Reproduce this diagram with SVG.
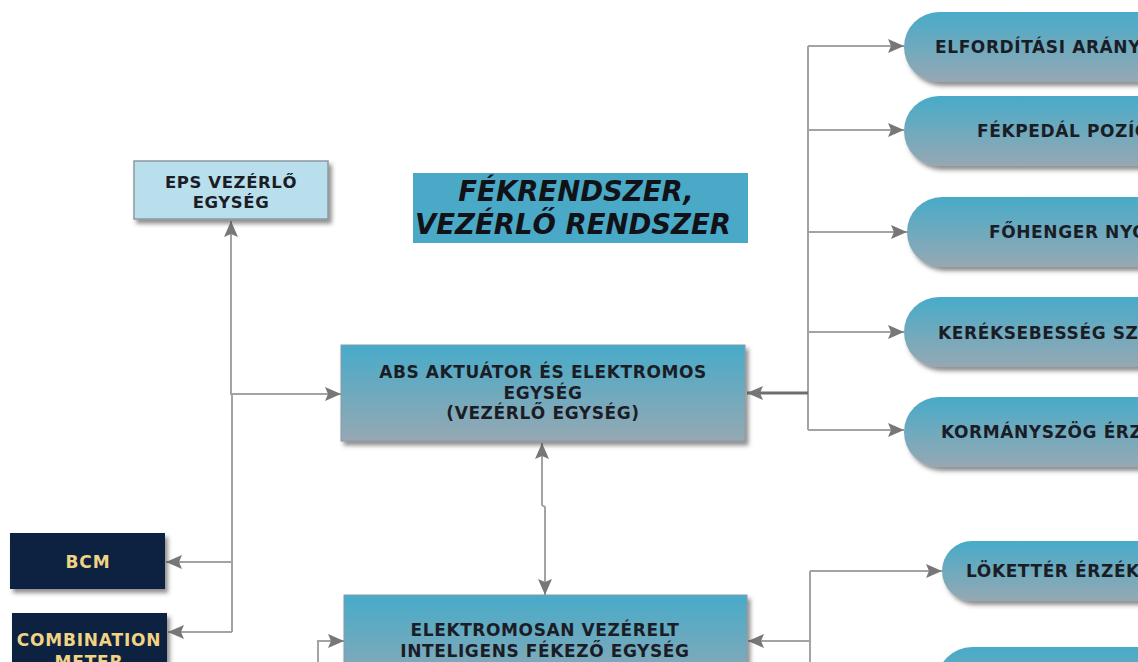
<svg xmlns="http://www.w3.org/2000/svg" width="1138" height="662" viewBox="0 0 1138 662">
<defs>
<linearGradient id="blueGrad" x1="0" y1="0" x2="0" y2="1">
<stop offset="0" stop-color="#47abc9"/>
<stop offset="1" stop-color="#96a8b3"/>
</linearGradient>
<filter id="sh" x="-10%" y="-10%" width="130%" height="140%">
<feDropShadow dx="3" dy="4" stdDeviation="2" flood-color="#444" flood-opacity="0.6"/>
</filter>
<marker id="ah" viewBox="0 0 16 14" refX="16" refY="7" markerWidth="17" markerHeight="14" markerUnits="userSpaceOnUse" orient="auto-start-reverse">
<path d="M0,0 L16,7 L0,14 L3,7 z" fill="#777777"/>
</marker>
</defs>
<style>
.conn{fill:none;stroke:#a3a3a3;stroke-width:2}
.dark{stroke:#6e6e6e;stroke-width:3}
.lbl{font-family:"DejaVu Sans",Verdana,sans-serif;font-weight:bold;fill:#1b1d26;letter-spacing:0.6px}
.node{stroke:#8a9aa3;stroke-width:1}
.pill{fill:url(#blueGrad);filter:url(#sh)}
.navy{fill:#10213f;filter:url(#sh)}
.yel{font-family:"DejaVu Sans",Verdana,sans-serif;font-weight:bold;fill:#f1d386;font-size:17px;text-anchor:middle;letter-spacing:0.8px}
</style>
<rect width="1138" height="662" fill="#ffffff"/>

<g id="connectors">
<path class="conn" d="M231,395 V221" marker-end="url(#ah)"/>
<path class="conn" d="M231,394 H341" marker-end="url(#ah)"/>
<path class="conn" d="M232,394 V632"/>
<path class="conn" d="M232,562 H166" marker-end="url(#ah)"/>
<path class="conn" d="M232,632 H168" marker-end="url(#ah)"/>
<path class="conn" d="M318,662 V641 H344" marker-end="url(#ah)"/>
<path class="conn" d="M542,443 V505 L545,507 V595" marker-start="url(#ah)" marker-end="url(#ah)"/>
<path class="conn" d="M808,46 V430"/>
<path class="conn dark" d="M808,393 H747" marker-end="url(#ah)"/>
<path class="conn" d="M808,46 H904" marker-end="url(#ah)"/>
<path class="conn" d="M808,130 H904" marker-end="url(#ah)"/>
<path class="conn" d="M808,232 H907" marker-end="url(#ah)"/>
<path class="conn" d="M808,332 H904" marker-end="url(#ah)"/>
<path class="conn" d="M808,430 H904" marker-end="url(#ah)"/>
<path class="conn" d="M810,571 V662"/>
<path class="conn" d="M810,571 H942" marker-end="url(#ah)"/>
<path class="conn" d="M810,641 H748" marker-end="url(#ah)"/>
</g>

<g id="eps">
<rect x="134" y="161" width="194" height="58" fill="#b8dfeb" stroke="#8c9aa2" stroke-width="1.5" filter="url(#sh)"/>
<text class="lbl" x="231" y="188" font-size="16.5" text-anchor="middle">EPS VEZÉRLŐ</text>
<text class="lbl" x="231" y="208" font-size="16.5" text-anchor="middle">EGYSÉG</text>
</g>

<g id="title">
<rect x="413" y="173" width="335" height="70" fill="#4aa9c6"/>
<text x="576" y="201" font-family="DejaVu Sans,Verdana,sans-serif" font-weight="bold" font-style="italic" font-size="27.5" fill="#101218" text-anchor="middle">FÉKRENDSZER,</text>
<text x="573" y="234" font-family="DejaVu Sans,Verdana,sans-serif" font-weight="bold" font-style="italic" font-size="27.5" fill="#101218" text-anchor="middle">VEZÉRLŐ RENDSZER</text>
</g>

<g id="abs">
<rect class="node" x="341" y="345" width="404" height="96" fill="url(#blueGrad)" filter="url(#sh)"/>
<text class="lbl" x="543" y="378" font-size="17" text-anchor="middle">ABS AKTUÁTOR ÉS ELEKTROMOS</text>
<text class="lbl" x="543" y="399" font-size="17" text-anchor="middle">EGYSÉG</text>
<text class="lbl" x="543" y="419" font-size="17" text-anchor="middle">(VEZÉRLŐ EGYSÉG)</text>
</g>

<g id="ecb">
<rect class="node" x="344" y="595" width="403" height="100" fill="url(#blueGrad)" filter="url(#sh)"/>
<text class="lbl" x="545" y="636" font-size="17" text-anchor="middle">ELEKTROMOSAN VEZÉRELT</text>
<text class="lbl" x="545" y="657" font-size="17" text-anchor="middle">INTELIGENS FÉKEZŐ EGYSÉG</text>
</g>

<g id="bcm">
<rect class="navy" x="10" y="533" width="155" height="56"/>
<text class="yel" x="88" y="568">BCM</text>
</g>

<g id="combination-meter">
<rect class="navy" x="12" y="613" width="155" height="80"/>
<text class="yel" x="89" y="646">COMBINATION</text>
<text class="yel" x="89" y="668">METER</text>
</g>

<g id="p1">
<rect class="pill" x="904" y="12" width="400" height="70" rx="35"/>
<text class="lbl" x="935" y="53" font-size="17">ELFORDÍTÁSI ARÁNY</text>
</g>
<g id="p2">
<rect class="pill" x="904" y="96" width="400" height="70" rx="35"/>
<text class="lbl" x="977" y="137" font-size="17">FÉKPEDÁL POZÍCIÓ</text>
</g>
<g id="p3">
<rect class="pill" x="907" y="197" width="400" height="70" rx="35"/>
<text class="lbl" x="989" y="238" font-size="17">FŐHENGER NYOMÁS</text>
</g>
<g id="p4">
<rect class="pill" x="904" y="297" width="400" height="70" rx="35"/>
<text class="lbl" x="938" y="339" font-size="17">KERÉKSEBESSÉG SZENZOR</text>
</g>
<g id="p5">
<rect class="pill" x="904" y="397" width="400" height="70" rx="35"/>
<text class="lbl" x="941" y="438" font-size="17">KORMÁNYSZÖG ÉRZÉKELŐ</text>
</g>
<g id="p6">
<rect class="pill" x="942" y="541" width="400" height="60" rx="30"/>
<text class="lbl" x="966" y="577" font-size="17">LÖKETTÉR ÉRZÉKELŐ</text>
</g>
<g id="p7">
<rect class="pill" x="937" y="647" width="400" height="70" rx="35"/>
</g>
</svg>
